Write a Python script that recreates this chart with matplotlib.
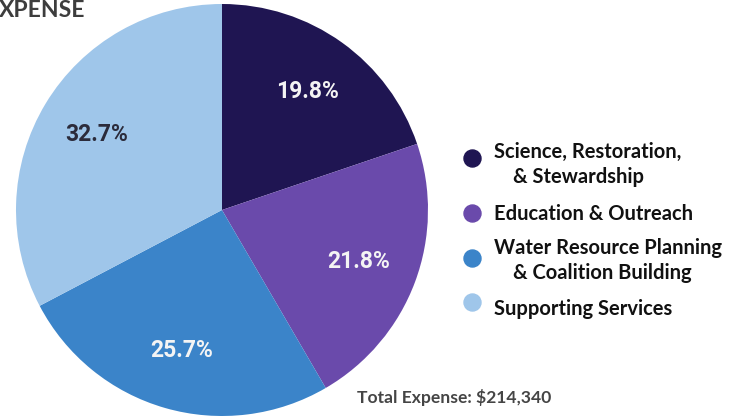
import matplotlib.pyplot as plt

# Expense breakdown (percent of total)
categories = ['Science, Restoration,', 'Education & Outreach',
              'Water Resource Planning', 'Supporting Services']
second_lines = ['& Stewardship', None, '& Coalition Building', None]
shares = [19.8, 21.8, 25.7, 32.7]
colors = ['#1f1552', '#6a4aab', '#3b84c9', '#9fc6ea']
pct_colors = ['#f4f4f4', '#f4f4f4', '#f4f4f4', '#2b2b3b']
total_label = 'Total Expense: $214,340'
title = 'XPENSE'

W, H = 741, 416
fig = plt.figure(figsize=(W / 100, H / 100), dpi=100)
ax = fig.add_axes([0, 0, 1, 1])

wedges, texts, autotexts = ax.pie(
    shares, colors=colors, startangle=90, counterclock=False,
    center=(222, H - 210), radius=206, autopct='%.1f%%', pctdistance=0.71,
    wedgeprops=dict(linewidth=0), frame=True)
ax.set_xlim(0, W)
ax.set_ylim(0, H)
ax.set_aspect('equal')
ax.axis('off')
for t, c in zip(autotexts, pct_colors):
    t.set_color(c)
    t.set_fontsize(16.5)
    t.set_fontweight('bold')
    t.set_family('Roboto')

# legend drawn by hand
font = 'Lato'
marker_y = [158, 213, 258, 302]
text_y = [152, 214, 248, 309]
for my, ty, name, line2, col in zip(marker_y, text_y, categories, second_lines, colors):
    ax.scatter([472], [H - my], s=150, color=col, zorder=3)
    ax.text(494, H - ty, name, fontsize=14.5, fontweight='bold', family=font,
            color='#111111', va='center', ha='left')
    if line2:
        ax.text(513, H - ty - 25, line2, fontsize=14.5, fontweight='bold', family=font,
                color='#111111', va='center', ha='left')

ax.text(357, H - 397, total_label, fontsize=12.6, fontweight='bold', family=font,
        color='#454545', va='center', ha='left')
ax.text(-1, H - 17, title, fontsize=16.5, fontweight='bold', family=font,
        color='#3d3d3d', va='baseline', ha='left')

fig.savefig('out.png', dpi=100)
